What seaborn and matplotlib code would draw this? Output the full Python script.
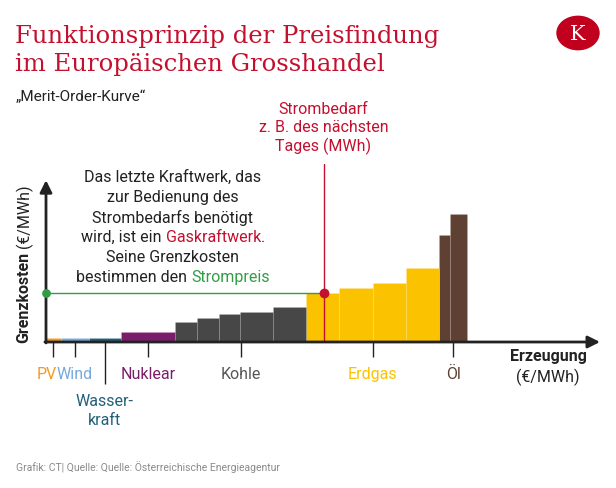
import matplotlib
matplotlib.use('Agg')
import matplotlib.pyplot as plt
import seaborn as sns
import pandas as pd
import numpy as np
from matplotlib.patches import Circle

# --- data (schematic merit order) ---
typen = ['PV', 'Wind', 'Wasserkraft', 'Nuklear', 'Kohle', 'Erdgas', 'Öl']
block_typ = ['PV', 'Wind', 'Wasserkraft', 'Nuklear',
             'Kohle', 'Kohle', 'Kohle', 'Kohle', 'Kohle',
             'Erdgas', 'Erdgas', 'Erdgas', 'Erdgas',
             'Öl', 'Öl']
block_leistung = [2.7, 5.0, 5.85, 9.8, 3.9, 3.9, 3.9, 6.0, 5.9, 6.0, 6.0, 6.0, 6.0, 1.9, 3.2]
block_kosten = [5, 5, 5.5, 12, 25, 30, 35, 37, 43, 61, 67, 73, 92, 132, 158]
strombedarf = 50.1
strompreis = 61

farben = {'PV': '#f39a1f', 'Wind': '#76a9dc', 'Wasserkraft': '#22607a',
          'Nuklear': '#7a1e6b', 'Kohle': '#474747', 'Erdgas': '#fbc200', 'Öl': '#5f4133'}
label_farben = {'PV': '#f39a1f', 'Wind': '#76a9dc', 'Wasserkraft': '#22607a',
                'Nuklear': '#7a1e6b', 'Kohle': '#555555', 'Erdgas': '#fbc200', 'Öl': '#5f4133'}

ROT = '#c4102f'
GRUEN = '#2f9e44'
DUNKEL = '#222222'

sns.set_theme(style='white')
plt.rcParams['font.family'] = ['Roboto', 'DejaVu Sans']

W, H = 616, 489
fig = plt.figure(figsize=(W / 100, H / 100), dpi=100)

def fx(x):
    return x / W

def fy(y):
    return 1 - y / H

ax = fig.add_axes([fx(46), fy(343), (600 - 46) / W, (343 - 165) / H])

edges = np.concatenate([[0], np.cumsum(block_leistung)])
mitten = (edges[:-1] + edges[1:]) / 2
df = pd.DataFrame({'mitte': mitten, 'kosten': block_kosten, 'typ': block_typ})

sns.histplot(data=df, x='mitte', weights='kosten', bins=edges.tolist(), hue='typ',
             hue_order=typen, palette=farben, multiple='layer', alpha=1,
             linewidth=0.5, edgecolor=(1, 1, 1, 0.12), legend=False, ax=ax)

ax.set_xlim(0, 100)
ax.set_ylim(0, 220)
ax.set_xlabel('')
ax.set_ylabel('')
for s in ax.spines.values():
    s.set_visible(False)
ax.grid(False)

# axes as arrows
ax.annotate('', xy=(100, 0), xytext=(-0.2, 0),
            arrowprops=dict(arrowstyle='-|>', color=DUNKEL, lw=2.0, mutation_scale=18, shrinkA=0, shrinkB=0),
            annotation_clip=False, zorder=10)
ax.annotate('', xy=(0, 200), xytext=(0, -1.2),
            arrowprops=dict(arrowstyle='-|>', color=DUNKEL, lw=2.0, mutation_scale=18, shrinkA=0, shrinkB=0),
            annotation_clip=False, zorder=10)

# category ticks
typ_mitte = {}
for t in typen:
    idx = [i for i, b in enumerate(block_typ) if b == t]
    typ_mitte[t] = (edges[idx[0]] + edges[idx[-1] + 1]) / 2
major = [typ_mitte[t] for t in typen if t != 'Wasserkraft']
ax.set_xticks(major)
ax.set_xticklabels([''] * len(major))
ax.set_xticks([typ_mitte['Wasserkraft']], minor=True)
ax.tick_params(axis='x', which='major', bottom=True, length=11, width=1, color=DUNKEL, direction='out')
ax.tick_params(axis='x', which='minor', bottom=True, length=30, width=1, color=DUNKEL, direction='out')
ax.set_yticks([])

label_dx = {'PV': -4.5, 'Wind': 0, 'Nuklear': 0, 'Kohle': 0, 'Erdgas': 0, 'Öl': 0}
for t in typen:
    if t == 'Wasserkraft':
        continue
    ax.annotate(t, xy=(typ_mitte[t], 0), xytext=(label_dx[t], -23), textcoords='offset points',
                ha='center', va='center', fontsize=11.5, color=label_farben[t], annotation_clip=False)
ax.annotate('Wasser-', xy=(typ_mitte['Wasserkraft'], 0), xytext=(0, -42), textcoords='offset points',
            ha='center', va='center', fontsize=11.5, color=label_farben['Wasserkraft'], annotation_clip=False)
ax.annotate('kraft', xy=(typ_mitte['Wasserkraft'], 0), xytext=(0, -55.5), textcoords='offset points',
            ha='center', va='center', fontsize=11.5, color=label_farben['Wasserkraft'], annotation_clip=False)

# x axis title
fig.text(fx(548), fy(357), 'Erzeugung', ha='center', va='center', fontsize=11.5, fontweight='bold', color=DUNKEL)
fig.text(fx(548), fy(377), '(€/MWh)', ha='center', va='center', fontsize=11.5, color=DUNKEL)

# demand and price
ax.axvline(strombedarf, ymin=0, ymax=1, color=ROT, lw=1, zorder=5)
ax.plot([0, strombedarf], [strompreis, strompreis], color=GRUEN, lw=1, zorder=5)
ax.scatter([0], [strompreis], s=40, color=GRUEN, zorder=12, clip_on=False, linewidths=0)
ax.scatter([strombedarf], [strompreis], s=50, color=ROT, zorder=12, clip_on=False, linewidths=0)

fig.text(fx(323.5), fy(128.5), 'Strombedarf\nz. B. des nächsten\nTages (MWh)', ha='center', va='center',
         fontsize=11.5, color=ROT, linespacing=1.25)

# explanation text with coloured words
renderer = fig.canvas.get_renderer()

def bunte_zeile(teile, cx, cy, size=11.5):
    objs = []
    for txt, col in teile:
        t = fig.text(0, fy(cy), txt, ha='left', va='center', fontsize=size, color=col)
        objs.append(t)
    widths = [o.get_window_extent(renderer).width for o in objs]
    start = cx - sum(widths) / 2
    for o, w in zip(objs, widths):
        o.set_x(fx(start))
        start += w

zeilen = [
    [('Das letzte Kraftwerk, das', DUNKEL)],
    [('zur Bedienung des', DUNKEL)],
    [('Strombedarfs benötigt', DUNKEL)],
    [('wird, ist ein ', DUNKEL), ('Gaskraftwerk', ROT), ('.', DUNKEL)],
    [('Seine Grenzkosten', DUNKEL)],
    [('bestimmen den ', DUNKEL), ('Strompreis', GRUEN)],
]
for i, z in enumerate(zeilen):
    bunte_zeile(z, 173, 177.5 + i * 20)

# y axis title (rotated, two weights)
t1 = fig.text(fx(24), fy(343), 'Grenzkosten', rotation=90, ha='center', va='bottom',
              fontsize=11.5, fontweight='bold', color=DUNKEL)
h1 = t1.get_window_extent(renderer).height
fig.text(fx(24), fy(343 - h1 - 4), '(€/MWh)', rotation=90, ha='center', va='bottom',
         fontsize=11.5, color=DUNKEL)

# header
fig.text(fx(15), fy(37), 'Funktionsprinzip der Preisfindung', ha='left', va='center',
         fontsize=17.5, color=ROT, family='DejaVu Serif')
fig.text(fx(15), fy(64), 'im Europäischen Grosshandel', ha='left', va='center',
         fontsize=17.5, color=ROT, family='DejaVu Serif')
fig.text(fx(16), fy(97), '„Merit-Order-Kurve“', ha='left', va='center', fontsize=11, color=DUNKEL)

# logo
logo = Circle((fx(578), fy(34)), 21 / W, transform=fig.transFigure, color='#c0001d', zorder=20)
fig.patches.append(logo)
fig.text(fx(578), fy(35), 'K', ha='center', va='center', fontsize=15, color='white',
         family='DejaVu Serif', zorder=21)

fig.text(fx(16), fy(467), 'Grafik: CT| Quelle: Quelle: Österreichische Energieagentur',
         ha='left', va='center', fontsize=7.5, color='#8a8a8a')

fig.savefig('out.png', dpi=100, facecolor='white')
